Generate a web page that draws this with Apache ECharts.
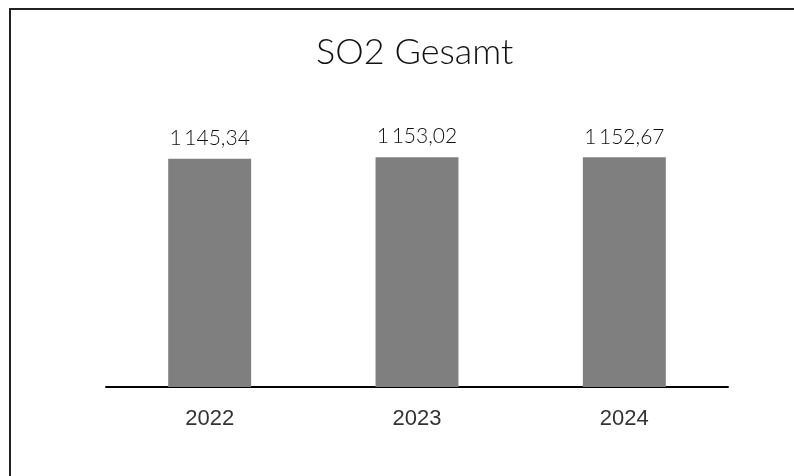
<!DOCTYPE html>
<html>
<head>
<meta charset="utf-8">
<script src="https://cdn.jsdelivr.net/npm/echarts@6/dist/echarts.min.js"></script>
<style>
  html, body { margin: 0; padding: 0; background: #fff; }
  #chart { width: 794px; height: 476px; }
</style>
</head>
<body>
<div id="chart"></div>
<script>
const years = ['2022', '2023', '2024']
const so2Values = [1145.34, 1153.02, 1152.67]

// 1 145,34 – Leerzeichen als Tausendertrenner, Komma als Dezimalzeichen
const formatDe = (v) => {
  const parts = v.toFixed(2).split('.')
  const intPart = parts[0].replace(/\B(?=(\d{3})+(?!\d))/g, '\u2009')
  return intPart + ',' + parts[1]
}

const chart = echarts.init(document.getElementById('chart'))
chart.setOption({
  animation: false,
  backgroundColor: '#fff',
  title: {
    text: 'SO2 Gesamt',
    left: 311,
    top: 29,
    textStyle: { fontFamily: 'Lato', fontWeight: 300, fontSize: 36, color: '#111' }
  },
  graphic: [
    {
      type: 'rect',
      shape: { x: 10, y: 9, width: 900, height: 600 },
      style: { fill: 'none', stroke: '#222', lineWidth: 2 },
      silent: true
    }
  ],
  grid: { left: 106, right: 66, top: 108, bottom: 89 },
  xAxis: {
    type: 'category',
    data: years,
    axisLine: { lineStyle: { color: '#000', width: 2 } },
    axisTick: { show: false },
    axisLabel: { margin: 21, fontFamily: 'Liberation Sans', fontSize: 22, color: '#333' }
  },
  yAxis: {
    type: 'value',
    min: 0,
    max: 1400,
    show: false,
    splitLine: { show: false }
  },
  series: [
    {
      type: 'bar',
      data: so2Values,
      barWidth: '40%',
      itemStyle: { color: '#7f7f7f' },
      label: {
        show: true,
        position: 'top',
        distance: 10,
        fontFamily: 'Lato',
        fontWeight: 300,
        fontSize: 21,
        color: '#111',
        formatter: (p) => formatDe(p.value)
      }
    }
  ]
})
</script>
</body>
</html>
